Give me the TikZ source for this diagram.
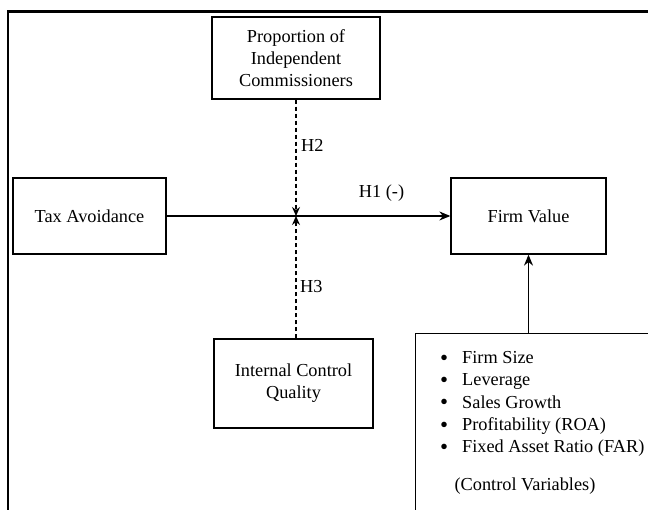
\documentclass[tikz,border=0pt]{standalone}
\usepackage{fontspec}
\setmainfont{Liberation Serif}
\usetikzlibrary{arrows.meta}
\newcommand{\bigbul}{\makebox[22pt][l]{\smash{\raisebox{-1.8pt}{\scalebox{1.25}{\textbullet}}}}}
\begin{document}
\begin{tikzpicture}[x=1pt,y=-1pt,
  every node/.style={font=\fontsize{18.3}{22}\selectfont},
  boxnode/.style={draw,line width=1.3pt,align=center,inner sep=0pt},
  lbl/.style={inner sep=0pt},
  conn/.style={line width=1.3pt,-{Stealth[length=11pt,width=9pt]}},
  dconn/.style={line width=1.3pt,-{Stealth[length=9pt,width=8pt]},dash pattern=on 4pt off 3pt}]
\useasboundingbox (0,0) rectangle (648,510);
\fill[white] (0,0) rectangle (648,510);
% outer frame (runs off right and bottom)
\draw[line width=2.5pt] (8,530) -- (8,11.5) -- (670,11.5);
% boxes
\node[boxnode,minimum width=168pt,minimum height=82pt] (prop) at (296,58) {Proportion of\\Independent\\Commissioners};
\node[boxnode,minimum width=153pt,minimum height=76pt] (tax) at (89.5,216) {Tax Avoidance};
\node[boxnode,minimum width=155pt,minimum height=76pt] (fv) at (528.5,216) {Firm Value};
\node[boxnode,minimum width=159pt,minimum height=89pt] (icq) at (293.5,383.5) {Internal Control\\Quality};
\node[boxnode,anchor=north west,minimum width=260pt,minimum height=200pt] (ctrl) at (415,333) {};
\node[lbl,anchor=west,align=left,font=\fontsize{18.3}{22.2}\selectfont] (list) at (440,404)
  {\bigbul Firm Size\\
   \bigbul Leverage\\
   \bigbul Sales Growth\\
   \bigbul Profitability (ROA)\\
   \bigbul Fixed Asset Ratio (FAR)};
\node[lbl] (cv) at (525,486) {(Control Variables)};
% junction
\coordinate (j) at (296,216);
% connectors
\draw[conn] (tax.east) -- (fv.west);
\draw[dconn] (prop.south -| j) -- (j);
\draw[dconn] (icq.north -| j) -- (j);
\draw[conn] (ctrl.north -| fv.south) -- (fv.south);
% labels
\node[lbl,anchor=west] (h2) at (301,145) {H2};
\node[lbl,anchor=west] (h3) at (300,287) {H3};
\node[lbl] (h1) at (381.5,193) {H1 (-)};
\end{tikzpicture}
\end{document}
